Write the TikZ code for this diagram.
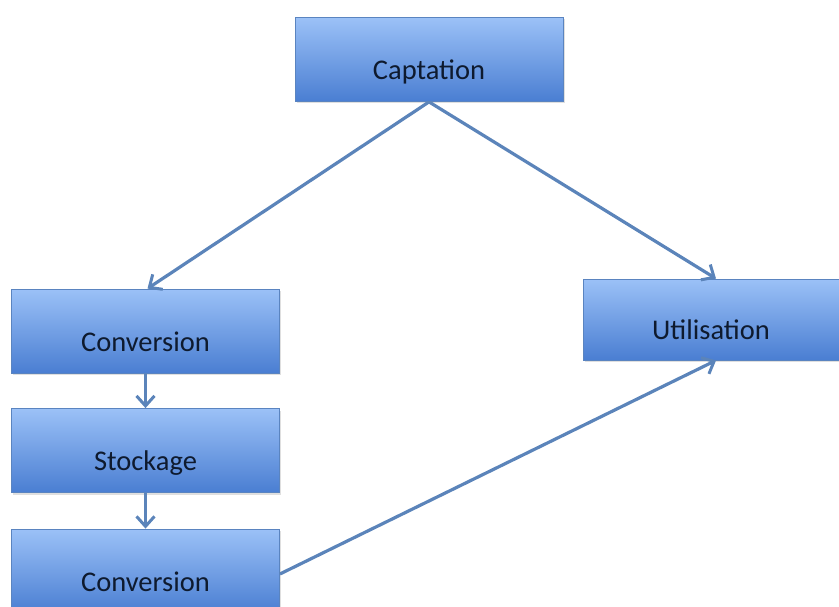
\documentclass[tikz,border=0pt]{standalone}
\usepackage{fontspec}
\setmainfont{Carlito}
\usetikzlibrary{arrows.meta,shadows}
\definecolor{boxtop}{HTML}{9BC1F7}
\definecolor{boxbot}{HTML}{4A7ED2}
\definecolor{boxline}{HTML}{5A84C0}
\definecolor{arr}{HTML}{5B84BA}
\definecolor{txt}{HTML}{0E1A2E}
\tikzset{
  box/.style={draw=boxline, line width=0.8pt, top color=boxtop, bottom color=boxbot,
    minimum width=268pt, minimum height=84pt, inner sep=0pt,
    text height=40pt, text depth=0pt,
    font=\fontsize{28.5}{32}\selectfont, text=txt,
    drop shadow={shadow xshift=1.5pt, shadow yshift=-2pt, opacity=0.25}},
  conn/.style={draw=arr, line width=3.2pt, -{Straight Barb[length=10pt,width=18pt,line width=3pt]}}
}
\begin{document}
\begin{tikzpicture}[x=1pt,y=-1pt]
\useasboundingbox (0,0) rectangle (839,607);
\begin{scope}
\clip (0,0) rectangle (839,607);
\node[box] (capt) at (429,59.5) {Captation};
\node[box] (conv1) at (145.5,331) {Conversion};
\node[box] (stock) at (145.5,450.5) {Stockage};
\node[box] (conv2) at (145.5,571) {Conversion};
\node[box, minimum width=256pt, minimum height=81pt] (util) at (711,319.5) {Utilisation};
\end{scope}
\draw[conn] (capt.south) -- ([xshift=2pt]conv1.north);
\draw[conn] (capt.south) -- ([xshift=5pt]util.north);
\draw[conn] (conv1.south) -- (stock.north);
\draw[conn] (stock.south) -- (conv2.north);
\draw[conn] ([yshift=-3pt]conv2.east) -- ([xshift=5pt]util.south);
\end{tikzpicture}
\end{document}
